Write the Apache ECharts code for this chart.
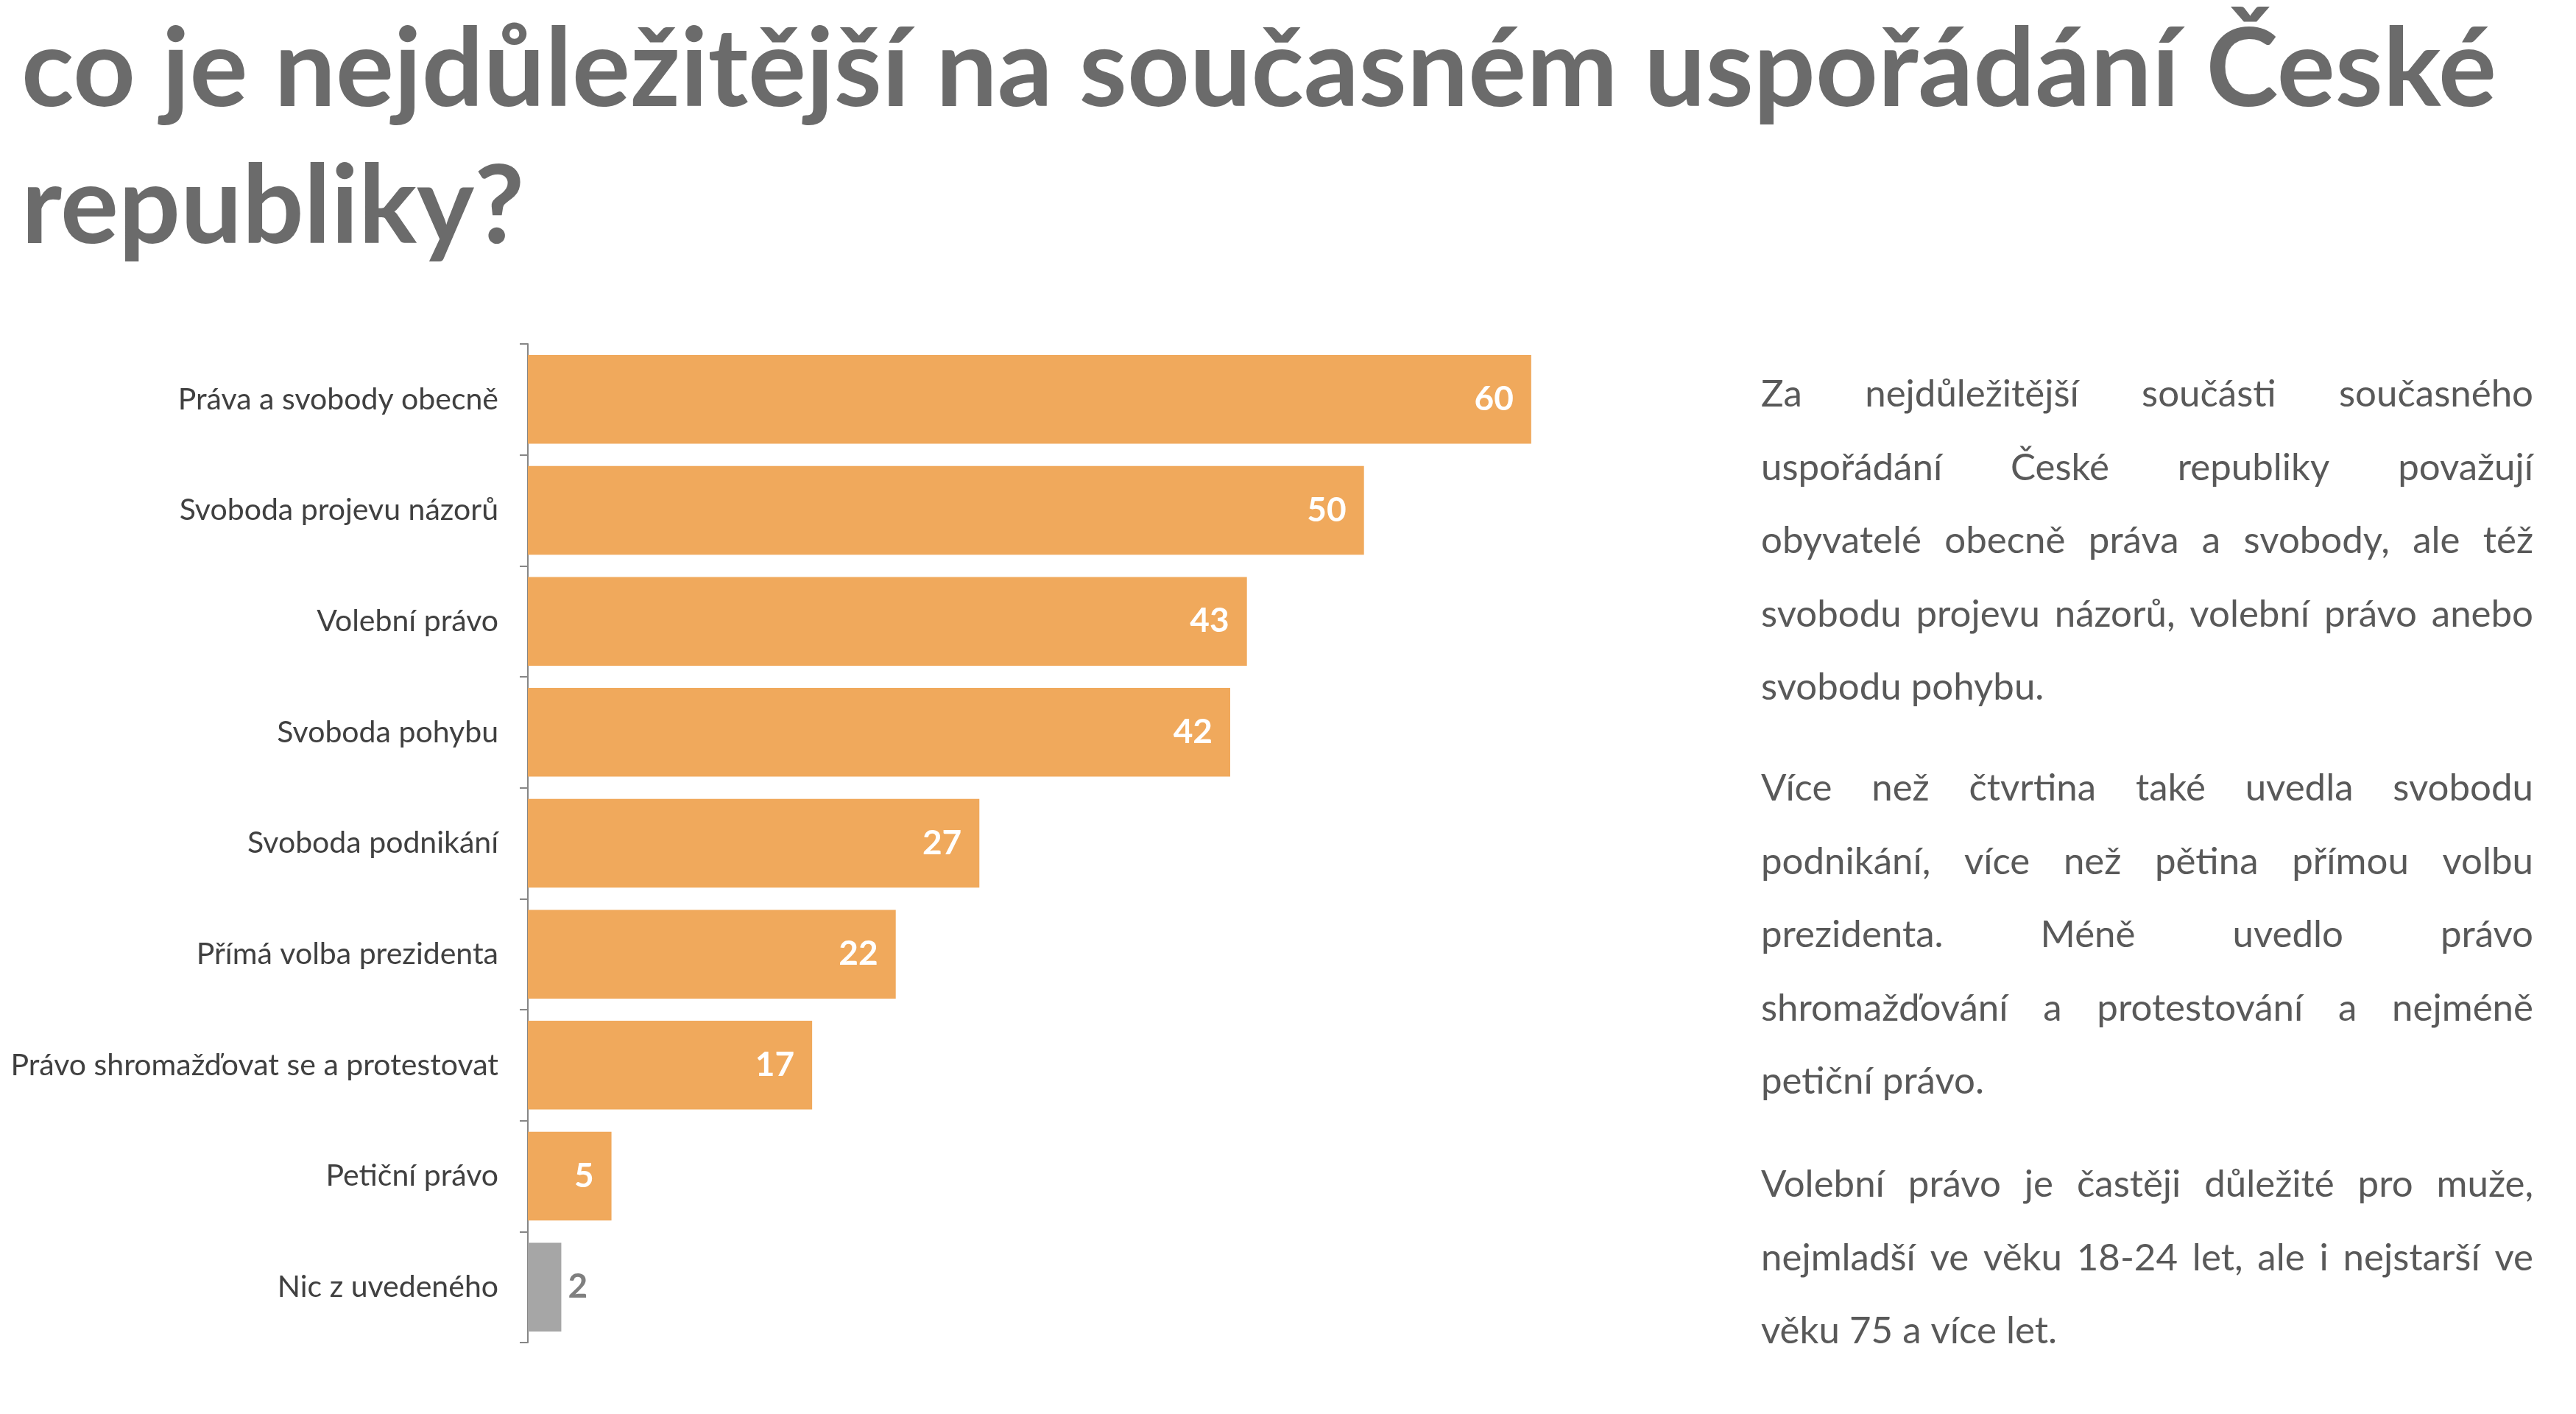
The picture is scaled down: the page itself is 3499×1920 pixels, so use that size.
<!DOCTYPE html>
<html>
<head>
<meta charset="utf-8">
<script src="https://cdn.jsdelivr.net/npm/echarts@6/dist/echarts.min.js"></script>
<style>
  html, body { margin: 0; padding: 0; background: #fff; }
  #main { width: 3499px; height: 1920px; }
</style>
</head>
<body>
<div id="main"></div>
<script>
const categories = [
  "Práva a svobody obecně",
  "Svoboda projevu názorů",
  "Volební právo",
  "Svoboda pohybu",
  "Svoboda podnikání",
  "Přímá volba prezidenta",
  "Právo shromažďovat se a protestovat",
  "Petiční právo",
  "Nic z uvedeného"
]
const values = [60, 50, 43, 42, 27, 22, 17, 5, 2]
const noneCategory = "Nic z uvedeného"

const titleText = "co je nejdůležitější na současném uspořádání České\nrepubliky?"

// lines as broken in the original text block
const paragraphs = [
  [
    "Za nejdůležitější součásti současného",
    "uspořádání České republiky považují",
    "obyvatelé obecně práva a svobody, ale též",
    "svobodu projevu názorů, volební právo anebo",
    "svobodu pohybu."
  ],
  [
    "Více než čtvrtina také uvedla svobodu",
    "podnikání, více než pětina přímou volbu",
    "prezidenta. Méně uvedlo právo",
    "shromažďování a protestování a nejméně",
    "petiční právo."
  ],
  [
    "Volební právo je častěji důležité pro muže,",
    "nejmladší ve věku 18-24 let, ale i nejstarší ve",
    "věku 75 a více let."
  ]
]

const FONT = "Lato, 'Noto Sans', sans-serif"
const ORANGE = "#F0A95C"
const GREY_BAR = "#A6A6A6"

// justified text block built from words, placed with measured widths
function buildParagraphs() {
  const fontSize = 51
  const left = 2392
  const width = 1049
  const lineHeight = 99.5
  const starts = [536, 1071, 1609]
  const ctx = document.createElement("canvas").getContext("2d")
  ctx.font = fontSize + "px " + FONT
  let els = []
  paragraphs.forEach((lines, p) => {
    lines.forEach((line, i) => {
      const y = starts[p] + i * lineHeight
      const words = line.split(" ")
      const last = i === lines.length - 1
      const ws = words.map((w) => ctx.measureText(w).width)
      const total = ws.reduce((a, b) => a + b, 0)
      const gap = last || words.length < 2 ? ctx.measureText(" ").width : (width - total) / (words.length - 1)
      let x = left
      words.forEach((w, k) => {
        els.push({
          type: "text",
          x: x,
          y: y,
          style: {
            text: w,
            fontSize: fontSize,
            fontFamily: FONT,
            fill: "#595959",
            verticalAlign: "middle",
          },
        })
        x += ws[k] + gap
      })
    })
  })
  return els
}

let myChart = echarts.init(document.getElementById("main"))

myChart.setOption({
  backgroundColor: "#fff",
  title: {
    text: titleText,
    left: 24,
    top: -2,
    textStyle: {
      fontFamily: FONT,
      fontWeight: "bold",
      fontSize: 148,
      lineHeight: 186,
      color: "#6b6b6b",
    },
  },
  grid: {
    left: 717,
    top: 467,
    width: 1590,
    height: 1356,
  },
  xAxis: {
    type: "value",
    min: 0,
    max: 70,
    show: false,
  },
  yAxis: {
    type: "category",
    inverse: true,
    data: categories,
    axisLine: { lineStyle: { color: "#868686", width: 2 } },
    axisTick: { show: true, length: 11, lineStyle: { color: "#868686", width: 2 } },
    axisLabel: {
      margin: 40,
      fontSize: 41,
      fontFamily: FONT,
      color: "#404040",
    },
  },
  series: [
    {
      type: "bar",
      barCategoryGap: "20%",
      itemStyle: { color: ORANGE },
      label: {
        show: true,
        position: "insideRight",
        distance: 24,
        color: "#fff",
        fontWeight: "bold",
        fontSize: 46,
        fontFamily: FONT,
      },
      data: values.map((v, i) => {
        if (categories[i] !== noneCategory) return v
        return {
          value: v,
          itemStyle: { color: GREY_BAR },
          label: { position: "right", distance: 9, color: "#7f7f7f" },
        }
      }),
    },
  ],
  graphic: buildParagraphs(),
})

window.addEventListener("resize", () => {
  myChart.resize()
})
</script>
</body>
</html>
